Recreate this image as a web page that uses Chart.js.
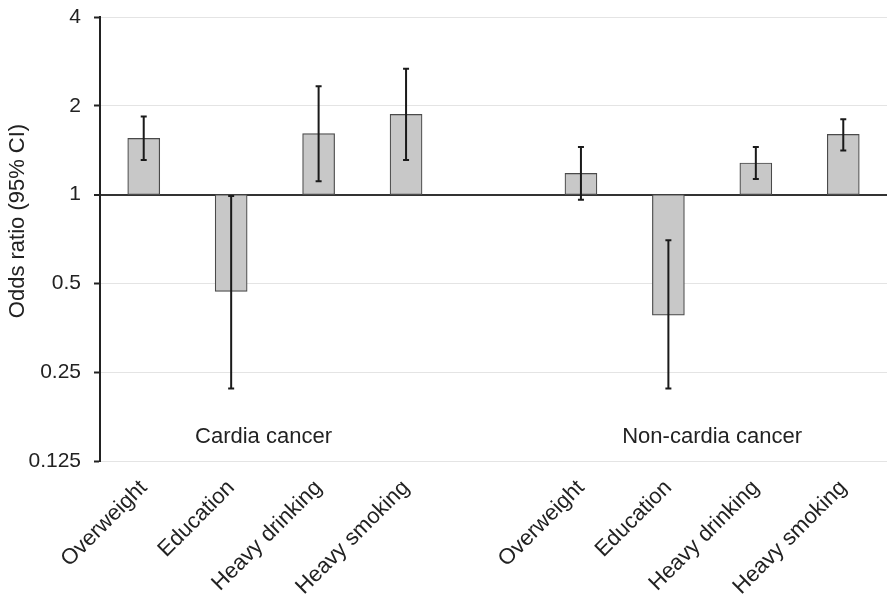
<!DOCTYPE html>
<html>
<head>
<meta charset="utf-8">
<script src="https://cdn.jsdelivr.net/npm/chart.js@4.4.1/dist/chart.umd.min.js"></script>
<style>
  body { margin: 0; background: #fff; }
  canvas { display: block; }
</style>
</head>
<body>
<canvas id="myChart" width="887" height="599"></canvas>
<script>
// values (odds ratio with 95% CI)
const categories = ['Overweight', 'Education', 'Heavy drinking', 'Heavy smoking', '',
                    'Overweight', 'Education', 'Heavy drinking', 'Heavy smoking'];
const oddsRatio = [1.55, 0.47, 1.61, 1.87, null, 1.18, 0.39, 1.28, 1.60];
const ciLower   = [1.31, 0.22, 1.11, 1.31, null, 0.96, 0.22, 1.13, 1.41];
const ciUpper   = [1.84, 0.99, 2.33, 2.67, null, 1.45, 0.70, 1.45, 1.80];
const yTicks = [0.125, 0.25, 0.5, 1, 2, 4];
const groupNames = ['Cardia cancer', 'Non-cardia cancer'];

const FONT = '"Liberation Sans", Arial, sans-serif';
const INK = '#222';

// bars start at OR = 1
const barData = oddsRatio.map(v => v == null ? null : [1, v]);

const errorBars = {
  id: 'errorBars',
  afterDatasetsDraw(chart) {
    const ctx = chart.ctx;
    const y = chart.scales.y;
    const meta = chart.getDatasetMeta(0);
    ctx.save();
    ctx.strokeStyle = '#1a1a1a';
    ctx.lineWidth = 2;
    meta.data.forEach((bar, i) => {
      if (ciLower[i] == null) return;
      const x = bar.x;
      const yl = y.getPixelForValue(ciLower[i]);
      const yh = y.getPixelForValue(ciUpper[i]);
      ctx.beginPath();
      ctx.moveTo(x, yl); ctx.lineTo(x, yh);
      ctx.moveTo(x - 3, yl); ctx.lineTo(x + 3, yl);
      ctx.moveTo(x - 3, yh); ctx.lineTo(x + 3, yh);
      ctx.stroke();
    });
    ctx.restore();
  }
};

const extraText = {
  id: 'extraText',
  afterDraw(chart) {
    const ctx = chart.ctx;
    const xs = chart.scales.x, ys = chart.scales.y;
    ctx.save();
    ctx.fillStyle = INK;
    ctx.font = '22px ' + FONT;
    ctx.textAlign = 'center';
    ctx.textBaseline = 'middle';
    const yy = ys.getPixelForValue(0.151);
    ctx.fillText(groupNames[0], xs.getPixelForValue(1.37), yy);
    ctx.fillText(groupNames[1], xs.getPixelForValue(6.5), yy);
    // y axis title
    ctx.translate(18, 221);
    ctx.rotate(-Math.PI / 2);
    ctx.fillText('Odds ratio (95% CI)', 0, 0);
    ctx.restore();
  }
};

const config = {
  type: 'bar',
  data: {
    labels: categories,
    datasets: [{
      data: barData,
      backgroundColor: '#c8c8c8',
      borderColor: '#4a4a4a',
      borderWidth: 1.2,
      borderSkipped: false,
      barThickness: 32
    }]
  },
  options: {
    responsive: false,
    animation: false,
    layout: { padding: { top: 17, right: 0, left: 0, bottom: 0 } },
    plugins: {
      legend: { display: false },
      tooltip: { enabled: false }
    },
    scales: {
      x: {
        grid: { display: false, drawTicks: false },
        border: { display: false },
        ticks: {
          autoSkip: false,
          minRotation: 45,
          maxRotation: 45,
          padding: 14,
          color: INK,
          font: { family: FONT, size: 22 }
        },
        afterFit(s) { s.height = 138; }
      },
      y: {
        type: 'logarithmic',
        min: 0.125,
        max: 4,
        afterBuildTicks(s) { s.ticks = yTicks.map(v => ({ value: v })); },
        afterFit(s) { s.width = 100; s.paddingTop = 0; s.paddingBottom = 0; },
        grid: {
          color: c => c.tick && c.tick.value === 1 ? '#333' : '#e4e4e4',
          lineWidth: c => c.tick && c.tick.value === 1 ? 2 : 1,
          tickColor: '#222',
          tickWidth: 2,
          tickLength: 6
        },
        border: { display: true, color: '#222', width: 2 },
        ticks: {
          padding: 13,
          color: INK,
          font: { family: FONT, size: 21 },
          callback: v => String(v)
        }
      }
    }
  },
  plugins: [errorBars, extraText]
};

const context = document.getElementById('myChart').getContext('2d');
const chart = new Chart(context, config);
</script>
</body>
</html>
